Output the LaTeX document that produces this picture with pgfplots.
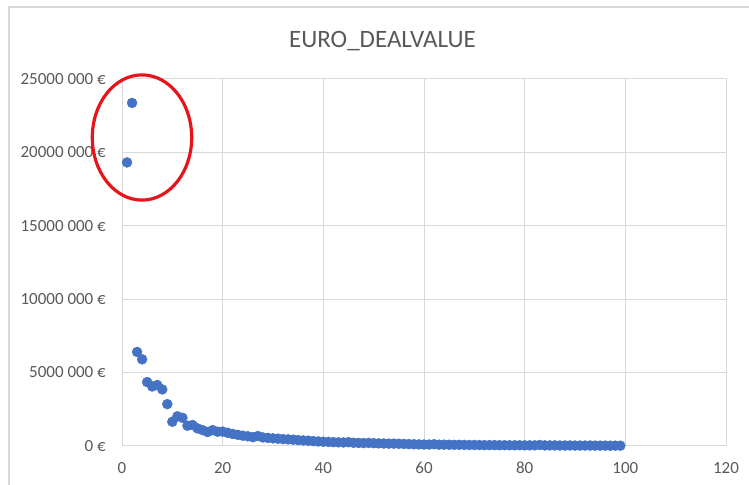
\documentclass[border=0pt]{standalone}
\usepackage{fontspec}
\setmainfont{Carlito}
\usepackage{pgfplots}
\pgfplotsset{compat=1.18}

\definecolor{gridgray}{HTML}{D9D9D9}
\definecolor{labelgray}{HTML}{595959}
\definecolor{dotblue}{HTML}{4472C4}
\definecolor{ringred}{RGB}{232,20,28}

\pgfplotstableread{
x y
1 19300000
2 23350000
3 6400000
4 5900000
5 4350000
6 4050000
7 4150000
8 3850000
9 2850000
10 1650000
11 2020000
12 1920000
13 1380000
14 1430000
15 1200000
16 1080000
17 950000
18 1080000
19 970000
20 980000
21 900000
22 820000
23 760000
24 700000
25 660000
26 600000
27 680000
28 580000
29 550000
30 520000
31 500000
32 470000
33 450000
34 430000
35 400000
36 380000
37 360000
38 330000
39 310000
40 290000
41 280000
42 260000
43 250000
44 240000
45 260000
46 220000
47 210000
48 200000
49 210000
50 190000
51 180000
52 170000
53 160000
54 160000
55 150000
56 140000
57 130000
58 120000
59 110000
60 100000
61 100000
62 120000
63 90000
64 90000
65 85000
66 80000
67 80000
68 75000
69 70000
70 70000
71 65000
72 60000
73 60000
74 60000
75 55000
76 55000
77 50000
78 50000
79 50000
80 45000
81 45000
82 45000
83 70000
84 40000
85 40000
86 40000
87 35000
88 35000
89 35000
90 30000
91 30000
92 30000
93 30000
94 25000
95 25000
96 25000
97 20000
98 20000
99 20000
}\dealvalues

\begin{document}
\begin{tikzpicture}[x=1bp,y=1bp]
% chart area frame
\draw[gridgray, line width=1.5bp] (9,-10) -- (9,478) -- (760,478);

% title
\node[anchor=base, inner sep=0pt, text=labelgray,
      font=\fontsize{25bp}{30bp}\selectfont] at (382.5,437.7) {EURO\_DEALVALUE};

\begin{axis}[
  at={(122bp,39bp)}, anchor=south west,
  scale only axis,
  width=604bp, height=367.3bp,
  xmin=0, xmax=120, ymin=0, ymax=25000000,
  xtick={0,20,...,120},
  xticklabels={0,20,40,60,80,100,120},
  ytick={0,5000000,10000000,15000000,20000000,25000000},
  yticklabels={0 €,5000 000 €,10000 000 €,15000 000 €,20000 000 €,25000 000 €},
  scaled y ticks=false,
  major tick length=0pt,
  grid=major,
  major grid style={gridgray, line width=1bp},
  axis line style={gridgray, line width=1bp},
  tick label style={text=labelgray, font=\fontsize{17bp}{20bp}\selectfont, inner sep=0pt},
  yticklabel style={anchor=east, xshift=-16bp},
  xticklabel style={anchor=north, yshift=-16bp},
  clip=false,
]
\addplot[only marks, mark=*, mark size=5bp,
         mark options={fill=dotblue, draw=dotblue}]
  table[x=x, y=y] {\dealvalues};
\end{axis}

% highlight around the two largest deals
\draw[ringred, line width=3.2bp] (142,347.5) ellipse [x radius=49.7, y radius=62.6];

\pgfresetboundingbox
\useasboundingbox (0,0) rectangle (749,485);
\end{tikzpicture}
\end{document}
